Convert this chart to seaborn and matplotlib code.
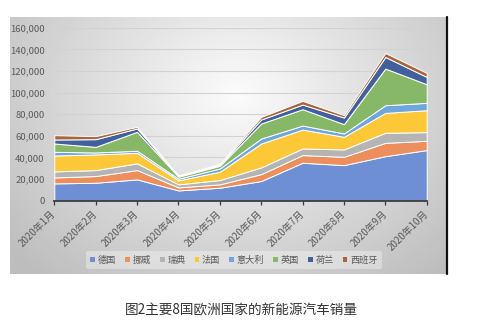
import numpy as np
import pandas as pd
import matplotlib
matplotlib.use("Agg")
import matplotlib.pyplot as plt
from matplotlib.lines import Line2D
from matplotlib.patches import Patch
import seaborn as sns

# ---------------- data ----------------
months = ["2020年1月", "2020年2月", "2020年3月", "2020年4月", "2020年5月",
          "2020年6月", "2020年7月", "2020年8月", "2020年9月", "2020年10月"]
countries = ["德国", "挪威", "瑞典", "法国", "意大利", "英国", "荷兰", "西班牙"]

germany = [16000, 16600, 19700, 9500, 12000, 18200, 35100, 32900, 41200, 46800]
norway = [5500, 6200, 8600, 2800, 3100, 6400, 7100, 7700, 12300, 8600]
sweden = [5600, 5500, 6200, 2800, 4000, 6200, 6100, 6800, 9300, 8000]
france = [14700, 14500, 9800, 3700, 7700, 22100, 17500, 11700, 18400, 20300]
italy = [3400, 1800, 1900, 1500, 3000, 4600, 3700, 3100, 7100, 6800]
uk = [7700, 5200, 17500, 1900, 2500, 13900, 15100, 8600, 33900, 17200]
netherlands = [3700, 7100, 3100, 600, 900, 3700, 4300, 6100, 10700, 6800]
spain = [4000, 2800, 1500, 600, 1000, 2400, 3400, 2200, 3700, 3700]

yticks = [0, 20000, 40000, 60000, 80000, 100000, 120000, 140000, 160000]
caption = "图2主要8国欧洲国家的新能源汽车销量"

colors = ["#6E8FD3", "#EC8F5C", "#B4B4B4", "#FDC838",
          "#6FA6DB", "#86B868", "#42609C", "#A8643C"]

df = pd.DataFrame({
    "德国": germany, "挪威": norway, "瑞典": sweden, "法国": france,
    "意大利": italy, "英国": uk, "荷兰": netherlands, "西班牙": spain,
}, index=months)

# ---------------- style ----------------
sns.set_theme(style="white")
plt.rcParams['font.family'] = ['Noto Sans CJK SC', 'DejaVu Sans']

W, H = 481, 329
fig = plt.figure(figsize=(W / 100, H / 100), dpi=100)
fig.patch.set_facecolor("white")

# gradient panel background
bg = fig.add_axes([10 / W, 1 - 274 / H, 437 / W, 257 / H])
yy, xx = np.mgrid[0:1:200j, 0:1:300j]
r = np.sqrt(((xx - 0.52) / 0.62) ** 2 + ((yy - 0.30) / 0.85) ** 2)
img = np.clip(0.985 - 0.22 * r, 0.74, 0.985)
bg.imshow(img, cmap="gray", vmin=0, vmax=1, extent=[0, 1, 0, 1],
          aspect="auto", origin="upper", interpolation="bilinear")
bg.axis("off")

fig.add_artist(Line2D([447 / W, 447 / W], [1 - 17 / H, 1 - 274 / H],
                      color="#111111", lw=1.6))

# main axes
x0, x1, ytop, ybot = 54.3, 426.7, 27.7, 200.7
ax = fig.add_axes([x0 / W, 1 - ybot / H, (x1 - x0) / W, (ybot - ytop) / H])
ax.patch.set_alpha(0)

xs = np.arange(len(months))
ax.stackplot(xs, *[df[c].values for c in countries], colors=colors,
             labels=countries, edgecolor="white", linewidth=0.7)

ax.set_xlim(0, len(months) - 1)
ax.set_ylim(0, 160000)
ax.set_yticks(yticks)
ax.set_yticklabels([f"{v:,}" for v in yticks])
ax.yaxis.grid(True, color="#D2D2D2", lw=0.8)
ax.set_axisbelow(True)
for s in ["left", "right", "top"]:
    ax.spines[s].set_visible(False)
ax.spines["bottom"].set_color("#3A3A3A")
ax.spines["bottom"].set_linewidth(1.3)
ax.spines["bottom"].set_zorder(5)

ax.set_xticks(xs)
ax.set_xticklabels(months, rotation=45, ha="right", va="center",
                   rotation_mode="anchor")
ax.tick_params(axis="x", length=3, width=0.9, color="#3A3A3A", direction="out",
               bottom=True, pad=5, labelsize=7, labelcolor="#595959")
ax.tick_params(axis="y", length=0, pad=7, labelsize=6.8, labelcolor="#595959")

# legend
handles = [Patch(facecolor=c, edgecolor="none") for c in colors]
leg = fig.legend(handles, countries, loc="center",
                 bbox_to_anchor=(234 / W, 1 - 260 / H), ncol=8,
                 frameon=True, fontsize=6.6, handlelength=0.5,
                 handleheight=0.5, handletextpad=0.3, columnspacing=1.0,
                 borderpad=0.45, labelcolor="#595959")
leg.get_frame().set_facecolor("white")
leg.get_frame().set_alpha(0.35)
leg.get_frame().set_edgecolor("none")

fig.text(241 / W, 1 - 310.7 / H, caption, ha="center", va="center",
         fontsize=9.8, color="#333333")

fig.savefig("out.png", dpi=100)
